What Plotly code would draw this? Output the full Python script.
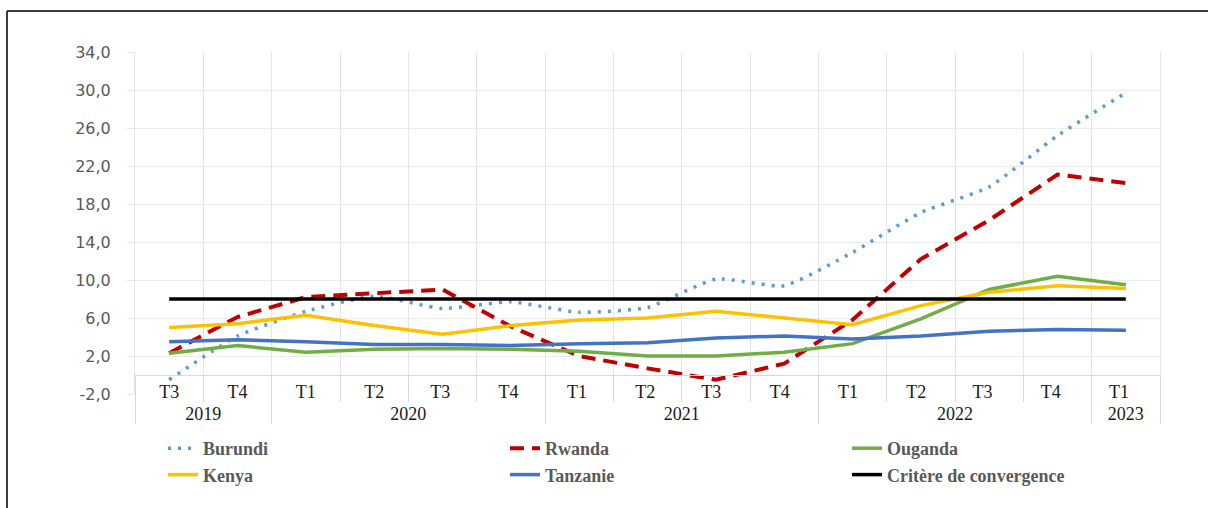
import plotly.graph_objects as go

years = ["2019", "2019", "2020", "2020", "2020", "2020", "2021", "2021", "2021", "2021",
         "2022", "2022", "2022", "2022", "2023"]
quarters = ["T3", "T4", "T1", "T2", "T3", "T4", "T1", "T2", "T3", "T4",
            "T1", "T2", "T3", "T4", "T1"]

burundi = [-0.5, 4.1, 6.7, 8.3, 7.0, 7.7, 6.6, 7.1, 10.1, 9.4, 12.9, 17.1, 19.8, 25.2, 29.7]
rwanda = [2.3, 6.1, 8.2, 8.6, 9.0, 5.1, 2.0, 0.7, -0.5, 1.2, 5.8, 12.2, 16.3, 21.1, 20.2]
ouganda = [2.3, 3.1, 2.4, 2.7, 2.8, 2.7, 2.5, 2.0, 2.0, 2.4, 3.3, 5.9, 9.0, 10.4, 9.5]
kenya = [5.0, 5.4, 6.3, 5.2, 4.3, 5.2, 5.8, 6.0, 6.7, 6.0, 5.3, 7.3, 8.7, 9.4, 9.1]
tanzanie = [3.5, 3.7, 3.5, 3.2, 3.2, 3.1, 3.3, 3.4, 3.9, 4.1, 3.8, 4.1, 4.6, 4.8, 4.7]
critere = [8.0] * 15

y_min, y_max, y_step = -2, 34, 4
y_ticks = list(range(y_min, y_max + 1, y_step))
y_ticktext = [f"{v:.1f}".replace(".", ",") for v in y_ticks]

# Plotly orders the inner level of a multicategory axis by first appearance,
# so repeated quarter names get invisible trailing spaces to keep data order.
counts = {}
quarter_keys = []
for q in quarters:
    n = counts.get(q, 0)
    quarter_keys.append(q + " " * n)
    counts[q] = n + 1

x = [years, quarter_keys]

fig = go.Figure()
series = [
    ("Burundi", burundi, "#5b9bd5", 3.5, "3px,7px", "spline"),
    ("Rwanda", rwanda, "#c00000", 4, "14px,8px", "linear"),
    ("Ouganda", ouganda, "#70ad47", 3.5, "solid", "linear"),
    ("Kenya", kenya, "#ffc000", 3.5, "solid", "linear"),
    ("Tanzanie", tanzanie, "#4472c4", 3.5, "solid", "linear"),
    ("Critère de convergence", critere, "#000000", 3.5, "solid", "linear"),
]
for name, vals, color, w, dash, shape in series:
    line = dict(color=color, width=w, dash=dash, shape=shape)
    if shape == "spline":
        line["smoothing"] = 0.5
    fig.add_trace(go.Scatter(x=x, y=vals, mode="lines", name=name, line=line))

fig.update_layout(
    width=1208, height=508,
    margin=dict(l=135, r=48, t=52, b=114, autoexpand=False),
    paper_bgcolor="white", plot_bgcolor="white",
    showlegend=True,
    legend=dict(
        orientation="h", xref="container", yref="container",
        x=163 / 1208, y=1 - 430 / 508, xanchor="left", yanchor="top",
        entrywidth=297, entrywidthmode="pixels",
        font=dict(family="Liberation Serif", size=18, color="#595959", weight="bold"),
        tracegroupgap=0,
    ),
    xaxis=dict(
        type="multicategory",
        range=[-0.5, len(quarters) - 0.5],
        anchor="free", position=(0 - y_min) / (y_max - y_min),
        showgrid=True, gridcolor="#e6e6e6", gridwidth=1,
        tickson="boundaries", ticks="outside", ticklen=26, tickcolor="#d9d9d9",
        showline=True, linecolor="#d9d9d9", linewidth=1,
        showdividers=True, dividercolor="#d9d9d9", dividerwidth=1,
        tickfont=dict(family="Liberation Serif", size=18, color="#1a1a1a"),
    ),
    yaxis=dict(
        range=[y_min, y_max], tickmode="array", tickvals=y_ticks, ticktext=y_ticktext,
        showgrid=False,
        minor=dict(tickmode="array", tickvals=[v for v in y_ticks if v > 0],
                   showgrid=True, gridcolor="#ececec", gridwidth=1, ticks=""),
        zeroline=False,
        ticks="outside", ticklen=7, tickcolor="#e6e6e6",
        ticklabelstandoff=13,
        showline=True, linecolor="#e6e6e6", mirror=True,
        tickfont=dict(family="DejaVu Sans", size=16, color="#595959"),
    ),
)

fig.add_shape(type="line", xref="paper", yref="paper",
              x0=(7 - 135) / 1025, x1=(1208 - 135) / 1025,
              y0=(394 - 11) / 342, y1=(394 - 11) / 342,
              line=dict(color="#3f3b38", width=2))
fig.add_shape(type="line", xref="paper", yref="paper",
              x0=(7 - 135) / 1025, x1=(7 - 135) / 1025,
              y0=(394 - 11) / 342, y1=(394 - 508) / 342,
              line=dict(color="#3f3b38", width=2))

fig.write_html("out.html")
